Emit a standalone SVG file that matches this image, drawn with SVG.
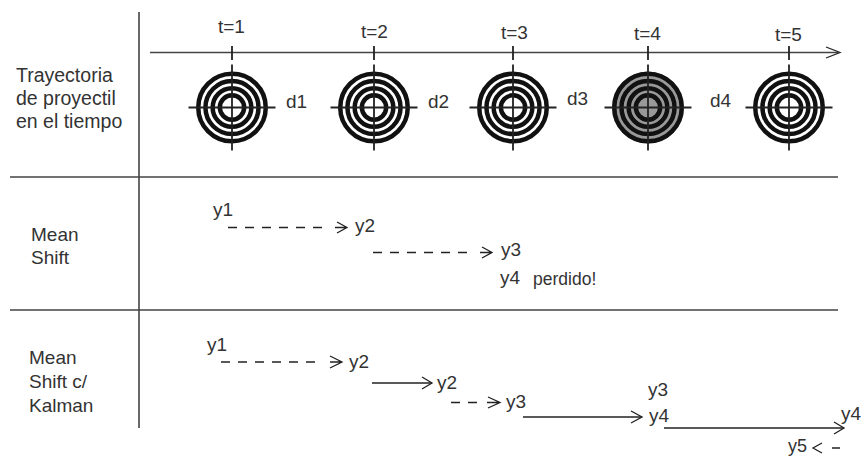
<svg xmlns="http://www.w3.org/2000/svg" width="861" height="456" viewBox="0 0 861 456">
<style>
text{font-family:"Liberation Sans",Arial,sans-serif;font-size:19px;fill:#333}
.l{stroke:#444;stroke-width:1.6;fill:none}
.d{stroke:#222;stroke-width:1.3;fill:none;stroke-dasharray:9 8}
.s{stroke:#222;stroke-width:1.5;fill:none}
.h{stroke:#222;stroke-width:1.3;fill:none}
.r{fill:none;stroke:#111;stroke-width:4.5}
.x{stroke:#222;stroke-width:1.8}
</style>
<defs>
<g id="target">
<circle r="33.75" class="r"/><circle r="26.55" class="r"/><circle r="19.35" class="r"/><circle r="12.15" class="r"/>
<path class="x" d="M-43.5 0H43.5M0-43V43"/>
</g>
</defs>
<rect width="861" height="456" fill="#fff"/>
<g id="connectors">
<path class="l" d="M139 12V428M10 177H838M10 310H838M150 52.5H838"/>
<path class="x" d="M232 46V60M374 46V60M513 46V60M648 46V60M789 46V60"/>
<path class="h" d="M826 47L840 52.5L826 58"/>
<path class="d" d="M228 227.5H330"/><path class="h" d="M337 222L347 227.5L337 233M335 227.5H347"/>
<path class="d" d="M373 252.5H475"/><path class="h" d="M482 247L492 252.5L482 258M480 252.5H492"/>
<path class="d" d="M221 362H323"/><path class="h" d="M330 356L342 362L330 368M330 362H342"/>
<path class="s" d="M372 383H432"/><path class="h" d="M422 377L432 383L422 389"/>
<path class="d" d="M451 402.5H479"/><path class="h" d="M488 397L500 402.5L488 408M487 402.5H500"/>
<path class="s" d="M523 417H642"/><path class="h" d="M631 411L642 417L631 423"/>
<path class="s" d="M664 428H844"/><path class="h" d="M834 422L844 428L834 434"/>
<path class="h" d="M822 443L813 448L822 453M832 448H840"/>
</g>
<g id="t1"><use href="#target" x="232" y="107.5"/><text x="218" y="33">t=1</text></g>
<g id="t2"><use href="#target" x="374" y="107.5"/><text x="361" y="38">t=2</text></g>
<g id="t3"><use href="#target" x="513" y="107.5"/><text x="501" y="39">t=3</text></g>
<g id="t4"><circle cx="648" cy="107.5" r="36" fill="#999"/><use href="#target" x="648" y="107.5"/><text x="634" y="40">t=4</text></g>
<g id="t5"><use href="#target" x="789" y="107.5"/><text x="775" y="41">t=5</text></g>
<g id="dlabels"><text x="286" y="108">d1</text><text x="428" y="108">d2</text><text x="567" y="105">d3</text><text x="710" y="107">d4</text></g>
<g id="row1"><text x="16" y="82" style="font-size:19.5px">Trayectoria</text><text x="16" y="105" style="font-size:19.5px">de proyectil</text><text x="16" y="128" style="font-size:19.5px">en el tiempo</text></g>
<g id="row2"><text x="31" y="241">Mean</text><text x="31" y="264">Shift</text>
<text x="213" y="216">y1</text><text x="355" y="232">y2</text><text x="501" y="256">y3</text><text x="500" y="284">y4</text><text x="533" y="285" style="font-size:17.5px">perdido!</text></g>
<g id="row3"><text x="29" y="364">Mean</text><text x="29" y="388">Shift c/</text><text x="29" y="412">Kalman</text>
<text x="207" y="351">y1</text><text x="349" y="368">y2</text><text x="437" y="389">y2</text><text x="506" y="408">y3</text><text x="648" y="396">y3</text><text x="649" y="422">y4</text><text x="841" y="420">y4</text><text x="788" y="452" style="font-size:18px">y5</text></g>
</svg>
